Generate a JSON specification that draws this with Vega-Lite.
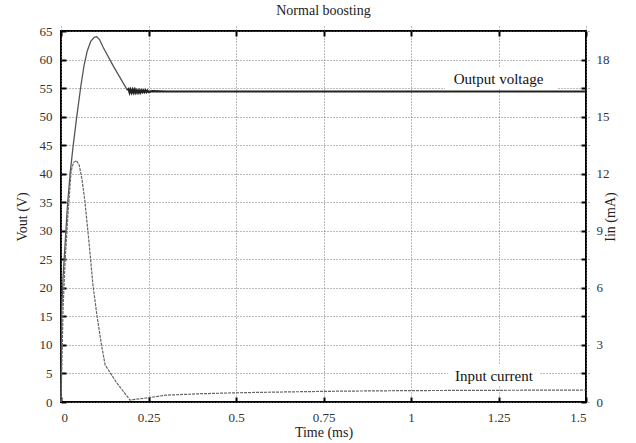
{
  "$schema": "https://vega.github.io/schema/vega-lite/v6.json",
  "width": 525,
  "height": 371,
  "autosize": {"type": "none"},
  "padding": {"left": 61, "top": 31, "right": 50, "bottom": 41},
  "title": {"text": "Normal boosting", "font": "Liberation Serif", "fontSize": 14, "fontWeight": "normal", "color": "#222", "offset": 7},
  "config": {
    "view": {"stroke": "#000", "strokeWidth": 2},
    "axis": {"labelFont": "Liberation Serif", "labelFontSize": 13, "labelColor": "#333", "titleFont": "Liberation Serif", "titleFontSize": 14, "titleFontWeight": "normal", "titleColor": "#222", "domain": false, "tickColor": "#000", "tickWidth": 2, "tickSize": 5, "offset": -5, "gridColor": "#777", "gridDash": [1, 2], "gridWidth": 1, "labelOverlap": false}
  },
  "datasets": {
    "vout": [
      {"t": 0, "v": 0}, {"t": 0.001, "v": 8}, {"t": 0.002, "v": 16}, {"t": 0.006, "v": 22},
      {"t": 0.012, "v": 28}, {"t": 0.018, "v": 34}, {"t": 0.026, "v": 40}, {"t": 0.034, "v": 44.5},
      {"t": 0.045, "v": 50}, {"t": 0.057, "v": 55.5}, {"t": 0.066, "v": 59}, {"t": 0.075, "v": 61.5},
      {"t": 0.085, "v": 63.2}, {"t": 0.095, "v": 63.9}, {"t": 0.102, "v": 64}, {"t": 0.11, "v": 63.5},
      {"t": 0.12, "v": 62.2}, {"t": 0.15, "v": 58.8}, {"t": 0.19, "v": 54.6},
      {"t": 0.193, "v": 54.8}, {"t": 0.196, "v": 54.2}, {"t": 0.199, "v": 54.7}, {"t": 0.202, "v": 54.2},
      {"t": 0.205, "v": 54.7}, {"t": 0.208, "v": 54.2}, {"t": 0.211, "v": 54.7}, {"t": 0.214, "v": 54.2},
      {"t": 0.217, "v": 54.6}, {"t": 0.22, "v": 54.2}, {"t": 0.223, "v": 54.6}, {"t": 0.226, "v": 54.2},
      {"t": 0.229, "v": 54.6}, {"t": 0.232, "v": 54.3}, {"t": 0.235, "v": 54.6}, {"t": 0.238, "v": 54.3},
      {"t": 0.241, "v": 54.6}, {"t": 0.244, "v": 54.3}, {"t": 0.247, "v": 54.55}, {"t": 0.25, "v": 54.3},
      {"t": 0.26, "v": 54.45}, {"t": 0.3, "v": 54.4}, {"t": 0.5, "v": 54.4}, {"t": 0.75, "v": 54.4},
      {"t": 1.0, "v": 54.4}, {"t": 1.25, "v": 54.4}, {"t": 1.5, "v": 54.4}
    ],
    "iin": [
      {"t": 0, "i": 0}, {"t": 0.003, "i": 2.4}, {"t": 0.006, "i": 4.95}, {"t": 0.012, "i": 7.5},
      {"t": 0.02, "i": 9.9}, {"t": 0.029, "i": 12.15}, {"t": 0.036, "i": 12.6}, {"t": 0.044, "i": 12.69},
      {"t": 0.052, "i": 12.45}, {"t": 0.06, "i": 11.7}, {"t": 0.068, "i": 10.59}, {"t": 0.08, "i": 8.4},
      {"t": 0.091, "i": 6.21}, {"t": 0.103, "i": 4.5}, {"t": 0.115, "i": 3.09}, {"t": 0.126, "i": 1.95},
      {"t": 0.16, "i": 0.99}, {"t": 0.197, "i": 0.105}, {"t": 0.25, "i": 0.225}, {"t": 0.3, "i": 0.36},
      {"t": 0.4, "i": 0.435}, {"t": 0.49, "i": 0.48}, {"t": 0.6, "i": 0.516}, {"t": 0.68, "i": 0.54},
      {"t": 0.8, "i": 0.57}, {"t": 1.0, "i": 0.6}, {"t": 1.25, "i": 0.615}, {"t": 1.5, "i": 0.63}
    ],
    "keys": [
      {"label": "Output voltage", "t0": 1.097, "t1": 1.417, "v0": 54.8, "v1": 58.6, "tc": 1.25, "vc": 56.6},
      {"label": "Input current", "t0": 1.106, "t1": 1.369, "v0": 2.8, "v1": 6.6, "tc": 1.237, "vc": 4.6}
    ]
  },
  "layer": [
    {
      "encoding": {
        "x": {"type": "quantitative", "scale": {"domain": [0, 1.5], "nice": false},
              "axis": {"title": "Time (ms)", "values": [0, 0.25, 0.5, 0.75, 1, 1.25, 1.5], "labelExpr": "format(datum.value, '~g')", "grid": true, "labelPadding": 9, "titlePadding": 1}},
        "y": {"type": "quantitative", "scale": {"domain": [0, 65], "nice": false},
              "axis": {"title": "Vout (V)", "values": [0, 5, 10, 15, 20, 25, 30, 35, 40, 45, 50, 55, 60, 65], "grid": true, "labelPadding": 9, "titlePadding": 10}}
      },
      "layer": [
        {
          "data": {"name": "keys"},
          "mark": {"type": "rect", "fill": "#fff", "stroke": null},
          "encoding": {
            "x": {"field": "t0"},
            "x2": {"field": "t1"},
            "y": {"field": "v0"},
            "y2": {"field": "v1"}
          }
        },
        {
          "data": {"name": "vout"},
          "transform": [{"filter": "datum.t <= 0.19"}],
          "mark": {"type": "line", "stroke": "#555", "strokeWidth": 1.3},
          "encoding": {
            "x": {"field": "t"},
            "y": {"field": "v"}
          }
        },
        {
          "data": {"name": "vout"},
          "transform": [{"filter": "datum.t >= 0.19"}],
          "mark": {"type": "line", "stroke": "#222", "strokeWidth": 2.2},
          "encoding": {
            "x": {"field": "t"},
            "y": {"field": "v"}
          }
        },
        {
          "data": {"name": "keys"},
          "mark": {"type": "text", "font": "Liberation Serif", "fontSize": 15, "color": "#111", "align": "center", "baseline": "middle"},
          "encoding": {
            "x": {"field": "tc"},
            "y": {"field": "vc"},
            "text": {"field": "label"}
          }
        }
      ]
    },
    {
      "data": {"name": "iin"},
      "mark": {"type": "line", "stroke": "#666", "strokeWidth": 1.2, "strokeDash": [3, 1]},
      "encoding": {
        "x": {"field": "t", "type": "quantitative", "scale": {"domain": [0, 1.5], "nice": false},
              "axis": {"orient": "top", "title": null, "labels": false, "grid": false, "values": [0, 0.25, 0.5, 0.75, 1, 1.25, 1.5]}},
        "y": {"field": "i", "type": "quantitative", "scale": {"domain": [0, 19.5], "nice": false},
              "axis": {"orient": "right", "title": "Iin (mA)", "titleAngle": -90, "values": [0, 1.5, 3, 4.5, 6, 7.5, 9, 10.5, 12, 13.5, 15, 16.5, 18], "labelExpr": "datum.value % 3 == 0 ? datum.label : ''", "format": "~g", "grid": false, "labelPadding": 10, "titlePadding": 8}}
      }
    }
  ],
  "resolve": {"scale": {"x": "independent", "y": "independent"}, "axis": {"x": "independent"}}
}
